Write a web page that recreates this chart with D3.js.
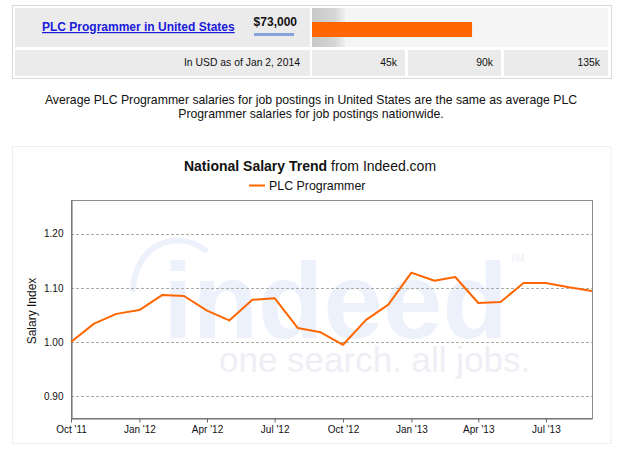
<!DOCTYPE html>
<html>
<head>
<meta charset="utf-8">
<script src="https://cdn.jsdelivr.net/npm/d3@7/dist/d3.min.js"></script>
<style>
  html, body { margin: 0; padding: 0; background: #fff; }
  svg { display: block; font-family: "Liberation Sans", Arial, sans-serif; }
</style>
</head>
<body>
<svg id="chart" width="621" height="456"></svg>
<script>
// ---- data ----
const jobTitle = "PLC Programmer in United States";
const salary = 73000;
const salaryLabel = "$73,000";
const salaryNote = "In USD as of Jan 2, 2014";
const salaryTicks = [45000, 90000, 135000];
const salaryTickLabels = ["45k", "90k", "135k"];
const salaryMax = 135000;

const summaryLines = [
  "Average PLC Programmer salaries for job postings in United States are the same as average PLC",
  "Programmer salaries for job postings nationwide."
];

const chartTitleBold = "National Salary Trend";
const chartTitleRest = " from Indeed.com";
const seriesName = "PLC Programmer";
const yAxisTitle = "Salary Index";

const months = [
  "2011-10", "2011-11", "2011-12", "2012-01", "2012-02", "2012-03",
  "2012-04", "2012-05", "2012-06", "2012-07", "2012-08", "2012-09",
  "2012-10", "2012-11", "2012-12", "2013-01", "2013-02", "2013-03",
  "2013-04", "2013-05", "2013-06", "2013-07", "2013-08", "2013-09"
];
const salaryIndex = [
  1.000, 1.034, 1.052, 1.059, 1.087, 1.085,
  1.058, 1.040, 1.078, 1.081, 1.026, 1.018,
  0.995, 1.041, 1.069, 1.128, 1.113, 1.120,
  1.072, 1.074, 1.109, 1.109, 1.101, 1.094
];
const yTicks = [0.90, 1.00, 1.10, 1.20];
const xTickMonths = ["2011-10", "2012-01", "2012-04", "2012-07", "2012-10", "2013-01", "2013-04", "2013-07"];
const xTickLabels = ["Oct '11", "Jan '12", "Apr '12", "Jul '12", "Oct '12", "Jan '13", "Apr '13", "Jul '13"];

const parseMonth = d3.timeParse("%Y-%m");
const ORANGE = "#ff6600";

const svg = d3.select("#chart");
const defs = svg.append("defs");

// ---- salary comparison panel ----
const panel = svg.append("g");
panel.append("rect").attr("x", 12.5).attr("y", 5.5).attr("width", 599).attr("height", 73)
  .attr("fill", "#fff").attr("stroke", "#d9d9d9");

const cellFill = "#ebebeb";
// title cell
panel.append("rect").attr("x", 15).attr("y", 8).attr("width", 295).attr("height", 39).attr("fill", cellFill);
// bar cell
panel.append("rect").attr("x", 312).attr("y", 8).attr("width", 296).attr("height", 39).attr("fill", "#f5f5f5");
const grad = defs.append("linearGradient").attr("id", "barShade").attr("x1", 0).attr("x2", 1).attr("y1", 0).attr("y2", 0);
grad.append("stop").attr("offset", 0).attr("stop-color", "#c8c8c8");
grad.append("stop").attr("offset", 0.7).attr("stop-color", "#d6d6d6");
grad.append("stop").attr("offset", 1).attr("stop-color", "#efefef");
panel.append("rect").attr("x", 312).attr("y", 8).attr("width", 33).attr("height", 39).attr("fill", "url(#barShade)");

const xBar = d3.scaleLinear().domain([0, salaryMax]).range([312, 608]);
panel.append("rect").attr("x", xBar(0)).attr("y", 22).attr("width", xBar(salary) - xBar(0)).attr("height", 15)
  .attr("fill", ORANGE);

// link title
panel.append("text").attr("x", 42).attr("y", 31).attr("font-size", 12).attr("font-weight", "bold")
  .attr("fill", "#1a1adb").attr("text-decoration", "underline").text(jobTitle);
panel.append("text").attr("x", 297).attr("y", 26).attr("text-anchor", "end").attr("font-size", 12)
  .attr("font-weight", "bold").attr("fill", "#111").text(salaryLabel);
panel.append("rect").attr("x", 254).attr("y", 33).attr("width", 40).attr("height", 3).attr("fill", "#86a2dc");

// lower row
panel.append("rect").attr("x", 15).attr("y", 50).attr("width", 295).attr("height", 26).attr("fill", cellFill);
panel.append("text").attr("x", 300).attr("y", 66).attr("text-anchor", "end").attr("font-size", 10.4)
  .attr("fill", "#111").text(salaryNote);

const tickCells = salaryTicks.map((t, i) => {
  const left = i === 0 ? xBar(0) : 312 + i * 96;
  const right = i === salaryTicks.length - 1 ? xBar(salaryMax) : 312 + i * 96 + 93;
  return { left, right, label: salaryTickLabels[i] };
});
panel.selectAll("rect.tickcell").data(tickCells).join("rect").attr("class", "tickcell")
  .attr("x", d => d.left).attr("y", 50).attr("width", d => d.right - d.left).attr("height", 26).attr("fill", cellFill);
panel.selectAll("text.ticklbl").data(tickCells).join("text").attr("class", "ticklbl")
  .attr("x", d => d.right - 8).attr("y", 66).attr("text-anchor", "end").attr("font-size", 10.4)
  .attr("fill", "#111").text(d => d.label);

// ---- summary text ----
svg.append("g").selectAll("text").data(summaryLines).join("text")
  .attr("x", 311).attr("y", (d, i) => 104 + i * 14).attr("text-anchor", "middle")
  .attr("font-size", 12.25).attr("fill", "#111").text(d => d);

// ---- trend chart frame ----
svg.append("rect").attr("x", 12.5).attr("y", 146.5).attr("width", 598.5).attr("height", 297)
  .attr("fill", "#fff").attr("stroke", "#e2dce6").attr("stroke-dasharray", "1,1");

const title = svg.append("text").attr("x", 310).attr("y", 171).attr("text-anchor", "middle")
  .attr("font-size", 14).attr("fill", "#111");
title.append("tspan").attr("font-weight", "bold").text(chartTitleBold);
title.append("tspan").text(chartTitleRest);

// legend
svg.append("line").attr("x1", 249).attr("x2", 265).attr("y1", 185.5).attr("y2", 185.5)
  .attr("stroke", ORANGE).attr("stroke-width", 2);
svg.append("text").attr("x", 269).attr("y", 190).attr("font-size", 12.4).attr("fill", "#111").text(seriesName);

// ---- plot ----
const plot = { left: 71, right: 592, top: 200, bottom: 418 };
const x = d3.scaleTime().domain([parseMonth("2011-10"), parseMonth("2013-09")]).range([plot.left, plot.right]);
const y = d3.scaleLinear().domain([0.86, 1.262]).range([plot.bottom, plot.top]);

// faint logo watermark behind the plot
const wm = svg.append("g").attr("pointer-events", "none");
wm.append("path")
  .attr("d", "M133,289 C136,245 175,228 205,250")
  .attr("fill", "none").attr("stroke", "#edf1fb").attr("stroke-width", 6).attr("stroke-linecap", "round");
wm.append("text").attr("x", 163).attr("y", 338).attr("font-size", 107).attr("font-weight", "bold")
  .attr("fill", "#edf1fb").text("indeed");
wm.append("text").attr("x", 510).attr("y", 262).attr("font-size", 10).attr("fill", "#eef0f6").text("TM");
wm.append("text").attr("x", 219).attr("y", 372).attr("font-size", 35)
  .attr("fill", "#eeeff5").text("one search. all jobs.");

// gridlines
svg.append("g").selectAll("line").data(yTicks).join("line")
  .attr("x1", plot.left).attr("x2", plot.right)
  .attr("y1", d => Math.round(y(d)) + 0.5).attr("y2", d => Math.round(y(d)) + 0.5)
  .attr("stroke", "#a8aca4").attr("stroke-dasharray", "3,2");

// plot border
svg.append("rect").attr("x", plot.left + 0.5).attr("y", plot.top + 0.5)
  .attr("width", plot.right - plot.left).attr("height", plot.bottom - plot.top)
  .attr("fill", "none").attr("stroke", "#8d8d8d");

// y axis
const yAxis = d3.axisLeft(y).tickValues(yTicks).tickFormat(d3.format(".2f")).tickSize(0).tickPadding(8);
const gy = svg.append("g").attr("transform", `translate(${plot.left + 0.5},0)`).call(yAxis);
gy.select(".domain").attr("stroke", "#666");
gy.selectAll("text").attr("font-size", 10).attr("fill", "#111").attr("font-family", "'Liberation Sans', Arial, sans-serif");

// x axis
const xAxis = d3.axisBottom(x).tickValues(xTickMonths.map(parseMonth))
  .tickFormat((d, i) => xTickLabels[i]).tickSize(4).tickSizeOuter(0).tickPadding(3);
const gx = svg.append("g").attr("transform", `translate(0,${plot.bottom + 0.5})`).call(xAxis);
gx.select(".domain").attr("stroke", "#666");
gx.selectAll(".tick line").attr("stroke", "#666");
gx.selectAll("text").attr("font-size", 10).attr("fill", "#111").attr("font-family", "'Liberation Sans', Arial, sans-serif");

// y axis title
svg.append("text").attr("transform", `translate(36,${(plot.top + plot.bottom) / 2 + 2}) rotate(-90)`)
  .attr("text-anchor", "middle").attr("font-size", 12).attr("fill", "#111").text(yAxisTitle);

// series line
const series = months.map((m, i) => ({ date: parseMonth(m), value: salaryIndex[i] }));
svg.append("path").datum(series)
  .attr("fill", "none").attr("stroke", ORANGE).attr("stroke-width", 2).attr("stroke-linejoin", "round")
  .attr("d", d3.line().x(d => x(d.date)).y(d => y(d.value)));
</script>
</body>
</html>
